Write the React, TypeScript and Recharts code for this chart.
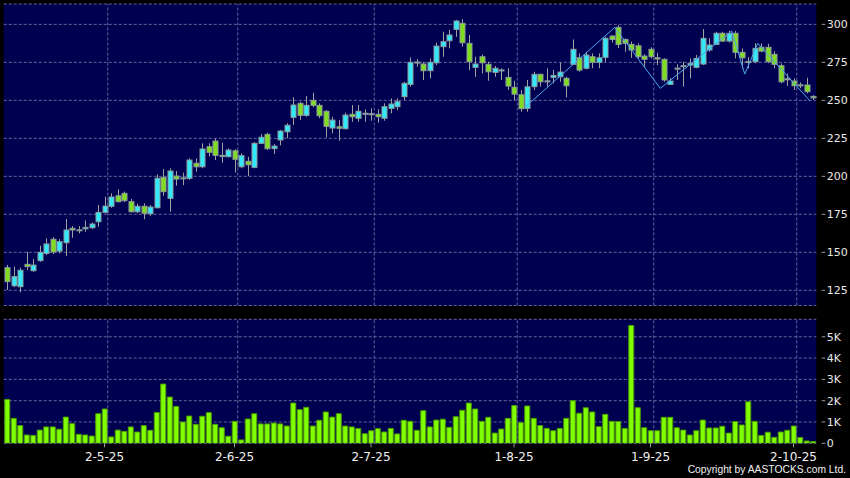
import React from 'react';
import { ComposedChart, Bar, Line, XAxis, YAxis, CartesianGrid, ReferenceLine } from 'recharts';

// trading days per month (HK), Apr 8 2025 .. Oct 8 2025
const aprDays = [8, 9, 10, 11, 14, 15, 16, 17, 22, 23, 24, 25, 28, 29, 30];
const mayDays = [2, 6, 7, 8, 9, 12, 13, 14, 15, 16, 19, 20, 21, 22, 23, 26, 27, 28, 29, 30];
const junDays = [2, 3, 4, 5, 6, 9, 10, 11, 12, 13, 16, 17, 18, 19, 20, 23, 24, 25, 26, 27, 30];
const julDays = [2, 3, 4, 7, 8, 9, 10, 11, 14, 15, 16, 17, 18, 21, 22, 23, 24, 25, 28, 29, 30, 31];
const augDays = [1, 4, 5, 6, 7, 8, 11, 12, 13, 14, 15, 18, 19, 20, 21, 22, 25, 26, 27, 28, 29];
const sepDays = [1, 2, 3, 4, 5, 8, 9, 10, 11, 12, 15, 16, 17, 18, 19, 22, 23, 24, 25, 26, 29, 30];
const octDays = [2, 3, 6, 8];

const dates = [
  ...aprDays.map((d) => `${d}-4-25`),
  ...mayDays.map((d) => `${d}-5-25`),
  ...junDays.map((d) => `${d}-6-25`),
  ...julDays.map((d) => `${d}-7-25`),
  ...augDays.map((d) => `${d}-8-25`),
  ...sepDays.map((d) => `${d}-9-25`),
  ...octDays.map((d) => `${d}-10-25`),
];

const monthTicks = ['2-5-25', '2-6-25', '2-7-25', '1-8-25', '1-9-25', '2-10-25'];
const priceTicks = [125, 150, 175, 200, 225, 250, 275, 300];
const volTicks = [0, 1000, 2000, 3000, 4000, 5000];

const opens = [
  139.9, 128.0, 127.4, 142.1, 137.9, 144.5, 149.3, 158.6, 150.8, 156.3,
  165.8, 164.8, 165.5, 166.2, 170.1, 176.3, 180.3, 187.2, 188.8, 183.3,
  176.7, 180.3, 175.4, 179.3, 199.3, 185.5, 200.2, 198.6, 198.7, 208.6,
  206.3, 219.5, 223.2, 213.8, 212.9, 216.8, 206.3, 209.9, 205.9, 221.7,
  227.6, 218.2, 223.9, 229.3, 238.8, 248.0, 240.1, 250.0, 246.7, 242.8,
  231.8, 232.6, 231.3, 240.8, 238.2, 241.3, 241.0, 240.8, 238.2, 244.7,
  245.8, 252.4, 260.5, 275.0, 273.9, 269.5, 274.7, 285.3, 289.2, 296.7,
  300.7, 287.5, 271.7, 278.7, 273.7, 268.4, 269.8, 265.1, 258.6, 253.7,
  244.7, 259.0, 267.1, 262.7, 265.1, 265.5, 264.5, 273.7, 278.0, 271.1,
  278.7, 275.0, 278.3, 292.3, 298.0, 290.0, 286.8, 285.9, 279.1, 283.6,
  278.0, 277.0, 260.5, 271.1, 272.6, 273.2, 271.7, 273.9, 283.1, 286.8,
  294.1, 289.0, 294.1, 281.6, 275.4, 275.4, 284.9, 284.9, 280.3, 272.8,
  264.0, 262.7, 260.0, 260.1, 252.6,
];
const highs = [
  141.7, 140.6, 139.9, 150.4, 145.5, 154.3, 159.2, 160.0, 158.7, 171.9,
  167.3, 167.3, 171.0, 169.7, 181.1, 186.6, 188.8, 191.4, 190.0, 185.1,
  182.0, 182.2, 181.1, 201.3, 204.8, 205.3, 203.5, 202.4, 211.8, 211.8,
  221.7, 221.7, 224.7, 222.1, 218.4, 217.8, 215.1, 212.9, 222.5, 227.8,
  228.7, 221.3, 230.5, 234.9, 252.0, 249.1, 252.8, 255.0, 248.0, 243.6,
  239.2, 237.0, 241.8, 246.9, 246.9, 244.1, 244.7, 244.1, 248.0, 251.3,
  251.3, 262.2, 278.3, 277.2, 275.2, 277.6, 287.9, 295.1, 296.3, 302.8,
  303.5, 293.0, 278.7, 280.0, 275.4, 272.6, 271.1, 271.1, 262.9, 256.8,
  263.4, 268.8, 267.5, 271.1, 270.0, 275.0, 265.5, 290.1, 280.9, 282.0,
  280.9, 280.9, 291.8, 292.9, 299.5, 290.8, 288.6, 287.5, 280.3, 284.9,
  281.3, 277.6, 264.5, 273.7, 275.4, 277.6, 279.8, 296.9, 290.8, 295.1,
  295.1, 295.8, 295.6, 284.2, 278.5, 287.5, 287.5, 287.2, 282.4, 274.3,
  267.5, 264.5, 261.8, 264.9, 253.4,
];
const lows = [
  125.2, 127.0, 123.7, 138.4, 137.1, 143.8, 148.2, 148.9, 149.3, 147.6,
  159.6, 162.5, 163.5, 165.3, 166.8, 175.7, 179.3, 182.9, 183.0, 176.3,
  175.7, 171.7, 174.0, 179.0, 187.2, 176.7, 193.8, 194.3, 197.6, 203.0,
  205.3, 213.0, 210.7, 208.9, 212.5, 202.4, 205.3, 200.2, 205.3, 221.3,
  217.3, 214.7, 220.4, 225.0, 233.8, 237.0, 239.2, 245.4, 238.2, 225.7,
  228.3, 223.4, 230.9, 235.9, 235.9, 235.9, 236.6, 235.3, 236.6, 241.4,
  243.6, 250.2, 259.0, 272.1, 263.4, 264.5, 273.2, 278.7, 284.2, 291.8,
  285.3, 269.9, 265.5, 267.8, 262.9, 265.5, 263.4, 256.8, 250.2, 242.5,
  242.5, 256.8, 259.0, 259.0, 261.2, 262.2, 252.0, 273.2, 268.8, 270.3,
  271.1, 271.1, 275.4, 288.0, 284.4, 282.0, 278.0, 277.6, 272.1, 277.6,
  273.2, 262.2, 260.1, 263.4, 259.0, 264.5, 271.1, 273.2, 282.0, 286.4,
  288.4, 288.0, 277.6, 271.1, 271.0, 274.5, 281.6, 274.5, 271.1, 261.2,
  259.5, 256.8, 258.0, 254.6, 250.2,
];
const closes = [
  130.7, 134.0, 138.2, 140.6, 141.6, 150.0, 155.5, 150.2, 157.0, 164.7,
  164.7, 164.5, 166.4, 168.6, 176.3, 180.4, 186.4, 183.3, 184.0, 176.7,
  180.3, 175.7, 179.8, 198.7, 189.9, 203.5, 198.2, 199.0, 210.7, 206.3,
  218.0, 215.8, 213.8, 213.0, 217.3, 211.2, 213.6, 207.6, 221.7, 225.7,
  218.2, 219.9, 229.8, 233.6, 246.9, 240.1, 246.7, 246.7, 239.9, 232.9,
  237.0, 231.6, 240.3, 239.2, 242.8, 241.5, 241.2, 239.2, 245.8, 247.6,
  249.1, 261.2, 275.0, 275.2, 269.5, 275.0, 285.7, 288.6, 293.0, 302.2,
  287.9, 275.4, 273.9, 274.7, 268.8, 271.1, 270.0, 259.4, 254.1, 244.5,
  258.9, 267.1, 262.2, 262.8, 266.4, 268.6, 259.6, 283.6, 269.9, 279.8,
  275.0, 278.0, 290.8, 290.1, 286.8, 287.5, 283.1, 278.7, 277.0, 278.7,
  277.2, 263.4, 262.7, 271.2, 272.8, 274.3, 277.6, 290.8, 286.4, 294.1,
  289.0, 294.1, 281.6, 278.0, 275.6, 284.2, 282.4, 275.4, 273.7, 262.2,
  264.2, 259.6, 260.2, 255.7, 251.6,
];
const volumes = [
  2060, 1170, 830, 390, 370, 620, 770, 770, 660, 1230,
  920, 420, 390, 340, 1390, 1610, 300, 620, 560, 770,
  530, 830, 610, 1440, 2780, 2170, 1730, 1000, 1280, 890,
  1270, 1440, 890, 730, 330, 1030, 160, 1140, 1390, 910,
  910, 950, 910, 810, 1890, 1580, 1690, 810, 1080, 1470,
  1230, 1390, 810, 770, 690, 450, 590, 690, 530, 700,
  440, 1080, 1030, 610, 1530, 770, 1090, 1130, 750, 1250,
  1550, 1890, 1610, 1030, 1220, 480, 670, 1170, 1770, 970,
  1750, 1170, 830, 700, 590, 700, 1170, 2000, 1410, 1670,
  1470, 780, 1360, 1030, 1020, 700, 5530, 1670, 730, 590,
  590, 1220, 1220, 730, 620, 390, 590, 1090, 720, 720,
  800, 480, 1020, 860, 1950, 1030, 370, 520, 280, 530,
  610, 810, 270, 110, 80,
];
// zigzag turning points (bar index -> price)
const zigIdx = [80, 94, 101, 112, 114, 116, 124];
const zigVal = [244.7, 298.0, 257.9, 295.6, 267.3, 287.5, 249.8];

const data = dates.map((date, i) => {
  const z = zigIdx.indexOf(i);
  return {
    date,
    open: opens[i],
    high: highs[i],
    low: lows[i],
    close: closes[i],
    range: [lows[i], highs[i]],
    vol: volumes[i],
    zz: z >= 0 ? zigVal[z] : null,
  };
});

const BG = '#000050';
const GRID = '#64649c';
const UP = '#33e8f8';
const DOWN = '#80dc20';
const FONT = 'DejaVu Sans';

const Candle = (props: any) => {
  const { x, y, width, height, payload } = props;
  const { open, close, high, low } = payload;
  const top = Math.min(y, y + height);
  const h = Math.abs(height);
  const k = high > low ? h / (high - low) : 0;
  const py = (v: number) => top + (high - v) * k;
  const cx = Math.round(x + width / 2) + 0.5;
  const bTop = py(Math.max(open, close));
  const bH = Math.max(1, py(Math.min(open, close)) - bTop);
  return (
    <g>
      <line x1={cx} x2={cx} y1={top} y2={top + h} stroke="#a0a0a0" strokeWidth={1} />
      <rect
        x={cx - 2.5}
        y={bTop}
        width={5}
        height={bH}
        fill={close >= open ? UP : DOWN}
        stroke="#8c9c9c"
        strokeWidth={1}
      />
    </g>
  );
};

const RightTick = (props: any) => {
  const { x, y, payload, kilo } = props;
  const v = payload.value;
  const label = kilo ? (v === 0 ? '0' : `${v / 1000}K`) : String(v);
  return (
    <g>
      <line x1={x + 5.5} x2={x + 9} y1={y} y2={y} stroke="#9a9a9a" />
      <text x={x + 10.5} y={y} dy={4} fill="#e8e8e8" fontSize={11} fontFamily={FONT}>
        {label}
      </text>
    </g>
  );
};

export default function App() {
  return (
    <div style={{ position: 'absolute', left: 0, top: 0, width: 850, height: 478, background: '#000' }}>
      <div style={{ position: 'absolute', left: 0, top: 0 }}>
        <ComposedChart width={850} height={310} data={data} margin={{ top: 4, right: 0, bottom: 4.5, left: 3.75 }}>
          <CartesianGrid fill={BG} stroke={GRID} strokeDasharray="3 2" vertical={false} />
          <XAxis dataKey="date" hide />
          <XAxis dataKey="date" xAxisId="zz" hide padding={{ left: -3.25, right: 3.25 }} />
          <YAxis
            orientation="right"
            width={33.75}
            domain={[115, 313.4]}
            ticks={priceTicks}
            interval={0}
            allowDataOverflow
            axisLine={false}
            tickLine={false}
            tickSize={0}
            tickMargin={0}
            tick={<RightTick />}
          />
          {monthTicks.map((t) => (
            <ReferenceLine key={t} x={t} position="end" stroke={GRID} strokeDasharray="3 2" />
          ))}
          <Bar dataKey="range" barSize={5} shape={<Candle />} isAnimationActive={false} />
          <Line
            dataKey="zz"
            xAxisId="zz"
            connectNulls
            dot={false}
            stroke="#4aa8ec"
            strokeWidth={1}
            isAnimationActive={false}
          />
        </ComposedChart>
      </div>
      <div style={{ position: 'absolute', left: 0, top: 310 }}>
        <ComposedChart width={850} height={168} data={data} margin={{ top: 9.3, right: 0, bottom: 0, left: 3.75 }}>
          <CartesianGrid fill={BG} stroke={GRID} strokeDasharray="3 2" vertical={false} />
          <XAxis
            dataKey="date"
            height={34.7}
            ticks={monthTicks}
            interval={0}
            axisLine={false}
            tickLine={{ stroke: '#9a9a9a' }}
            tickSize={4}
            tickMargin={5}
            tick={{ fill: '#f0f0f0', fontSize: 12, fontFamily: FONT }}
          />
          <YAxis
            orientation="right"
            width={33.75}
            domain={[0, 5820]}
            ticks={volTicks}
            interval={0}
            allowDataOverflow
            axisLine={false}
            tickLine={false}
            tickSize={0}
            tickMargin={0}
            tick={<RightTick kilo />}
          />
          {monthTicks.map((t) => (
            <ReferenceLine key={t} x={t} position="end" stroke={GRID} strokeDasharray="3 2" />
          ))}
          <Bar dataKey="vol" barSize={5} fill="#80ff00" stroke="#4c9a00" strokeWidth={1} isAnimationActive={false} />
        </ComposedChart>
      </div>
      <svg style={{ position: 'absolute', left: 0, top: 0 }} width={850} height={478}>
        <text x={846} y={473} textAnchor="end" fill="#f0f0f0" fontSize={10.3} fontFamily="Liberation Sans">
          Copyright by AASTOCKS.com Ltd.
        </text>
      </svg>
    </div>
  );
}
